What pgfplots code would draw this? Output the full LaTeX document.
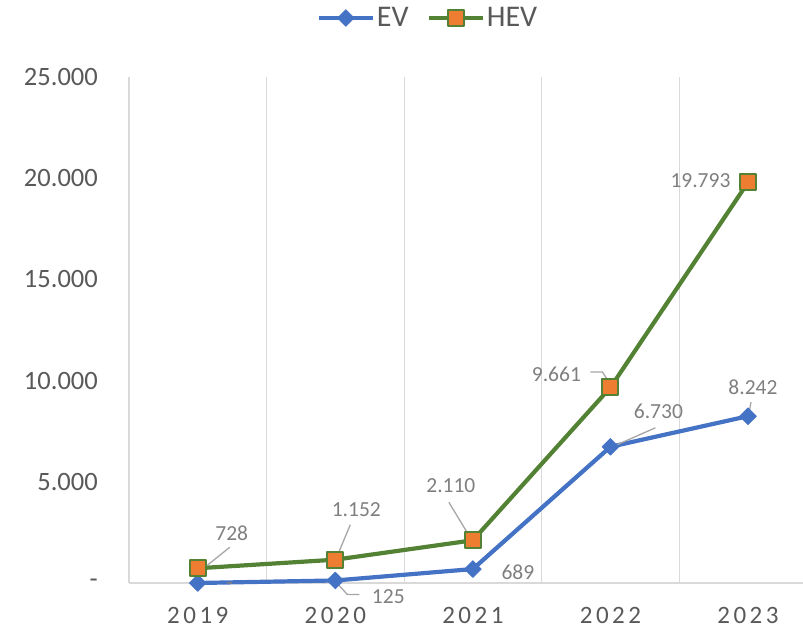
\documentclass[border=0pt]{standalone}
\usepackage{fontspec}
\setmainfont{Carlito}
\newfontfamily\xfont[LetterSpace=14]{Carlito}
\usepackage{pgfplots}
\pgfplotsset{compat=1.18}
\definecolor{evblue}{HTML}{4472C4}
\definecolor{hevgreen}{HTML}{548235}
\definecolor{hevorange}{HTML}{ED7D31}
\definecolor{tickgray}{HTML}{595959}
\definecolor{lblgray}{HTML}{7F7F7F}
\definecolor{leadgray}{HTML}{A6A6A6}
\definecolor{gridgray}{HTML}{D9D9D9}
\tikzset{lbl/.style={font=\fontsize{21.5}{25}\selectfont, text=lblgray, inner sep=0pt},
  ld/.style={leadgray, line width=1.3pt}}
\begin{document}
\begin{tikzpicture}
\useasboundingbox (0,0) rectangle (803pt,632pt);
\begin{axis}[
 at={(129pt,49pt)}, anchor=south west,
 scale only axis, width=674pt, height=506pt,
 xmin=-0.5, xmax=4.4, ymin=0, ymax=25000,
 scaled y ticks=false,
 clip=false,
 axis x line*=bottom, axis y line*=left,
 axis line style={gridgray, line width=1.2pt, -},
 xtick={0,1,2,3,4},
 xticklabels={2019,2020,2021,2022,2023},
 xticklabel style={font=\xfont\fontsize{25}{30}\selectfont, text=tickgray, anchor=north, inner sep=0pt, yshift=-24pt},
 ytick={0,5000,10000,15000,20000,25000},
 yticklabels={-,5.000,10.000,15.000,20.000,25.000},
 yticklabel style={font=\fontsize{26.5}{30}\selectfont, text=tickgray, anchor=east, inner sep=0pt, xshift=-31pt},
 major tick length=0pt,
 extra x ticks={0.5,1.5,2.5,3.5},
 extra x tick labels={},
 extra x tick style={grid=major, major grid style={gridgray, line width=1.2pt}},
 legend columns=2,
 legend style={at={(0.4436,1.1166)}, anchor=center, draw=none, fill=none,
   font=\fontsize{30}{34}\selectfont, text=tickgray,
   nodes={inner sep=2pt},
   /tikz/every even column/.append style={column sep=16pt}},
 legend image code/.code={\draw[mark repeat=2,mark phase=2,#1] plot coordinates {(0pt,0pt)(27pt,0pt)(54pt,0pt)};},
]
\addplot[evblue, line width=4.2pt, line join=round, mark=square*, mark size=6pt,
  mark options={rotate=45, fill=evblue, draw=evblue, line width=0.5pt}]
  coordinates {(0,0)(1,125)(2,689)(3,6730)(4,8242)};
\addlegendentry{EV}
\addplot[hevgreen, line width=4.2pt, line join=round, mark=square*, mark size=8pt,
  mark options={fill=hevorange, draw=hevgreen, line width=2pt}]
  coordinates {(0,728)(1,1152)(2,2110)(3,9661)(4,19793)};
\addlegendentry{HEV}

% leader lines
\draw[ld] ([xshift=1pt,yshift=-2pt]axis cs:1,125) -- ([xshift=12pt,yshift=-14pt]axis cs:1,125) -- ([xshift=24pt,yshift=-14pt]axis cs:1,125);
\draw[ld] ([xshift=2pt,yshift=0pt]axis cs:3,6730) -- ([xshift=45pt,yshift=19pt]axis cs:3,6730);
\draw[ld] ([xshift=1pt,yshift=3pt]axis cs:4,8242) -- ([xshift=3pt,yshift=14pt]axis cs:4,8242);
\draw[ld] ([xshift=7pt,yshift=1pt]axis cs:0,728) -- ([xshift=32pt,yshift=21pt]axis cs:0,728);
\draw[ld] ([xshift=2pt,yshift=4pt]axis cs:1,1152) -- ([xshift=15pt,yshift=35pt]axis cs:1,1152);
\draw[ld] ([xshift=-1pt,yshift=0pt]axis cs:2,2110) -- ([xshift=-24pt,yshift=38pt]axis cs:2,2110);
\draw[ld] ([xshift=1pt,yshift=1.5pt]axis cs:3,9661) -- ([xshift=-8pt,yshift=15.5pt]axis cs:3,9661) -- ([xshift=-20pt,yshift=15.5pt]axis cs:3,9661);

% data labels
\node[lbl] at ([xshift=32pt,yshift=-3pt]axis cs:0,0) {-};
\node[lbl] at ([xshift=53pt,yshift=-16.5pt]axis cs:1,125) {125};
\node[lbl] at ([xshift=45pt,yshift=-3pt]axis cs:2,689) {689};
\node[lbl] at ([xshift=48pt,yshift=35pt]axis cs:3,6730) {6.730};
\node[lbl] at ([xshift=5pt,yshift=29pt]axis cs:4,8242) {8.242};
\node[lbl] at ([xshift=34pt,yshift=35pt]axis cs:0,728) {728};
\node[lbl] at ([xshift=21pt,yshift=50pt]axis cs:1,1152) {1.152};
\node[lbl] at ([xshift=-22pt,yshift=55pt]axis cs:2,2110) {2.110};
\node[lbl] at ([xshift=-54pt,yshift=13.5pt]axis cs:3,9661) {9.661};
\node[lbl] at ([xshift=-47.5pt,yshift=2pt]axis cs:4,19793) {19.793};
\end{axis}
\end{tikzpicture}
\end{document}
